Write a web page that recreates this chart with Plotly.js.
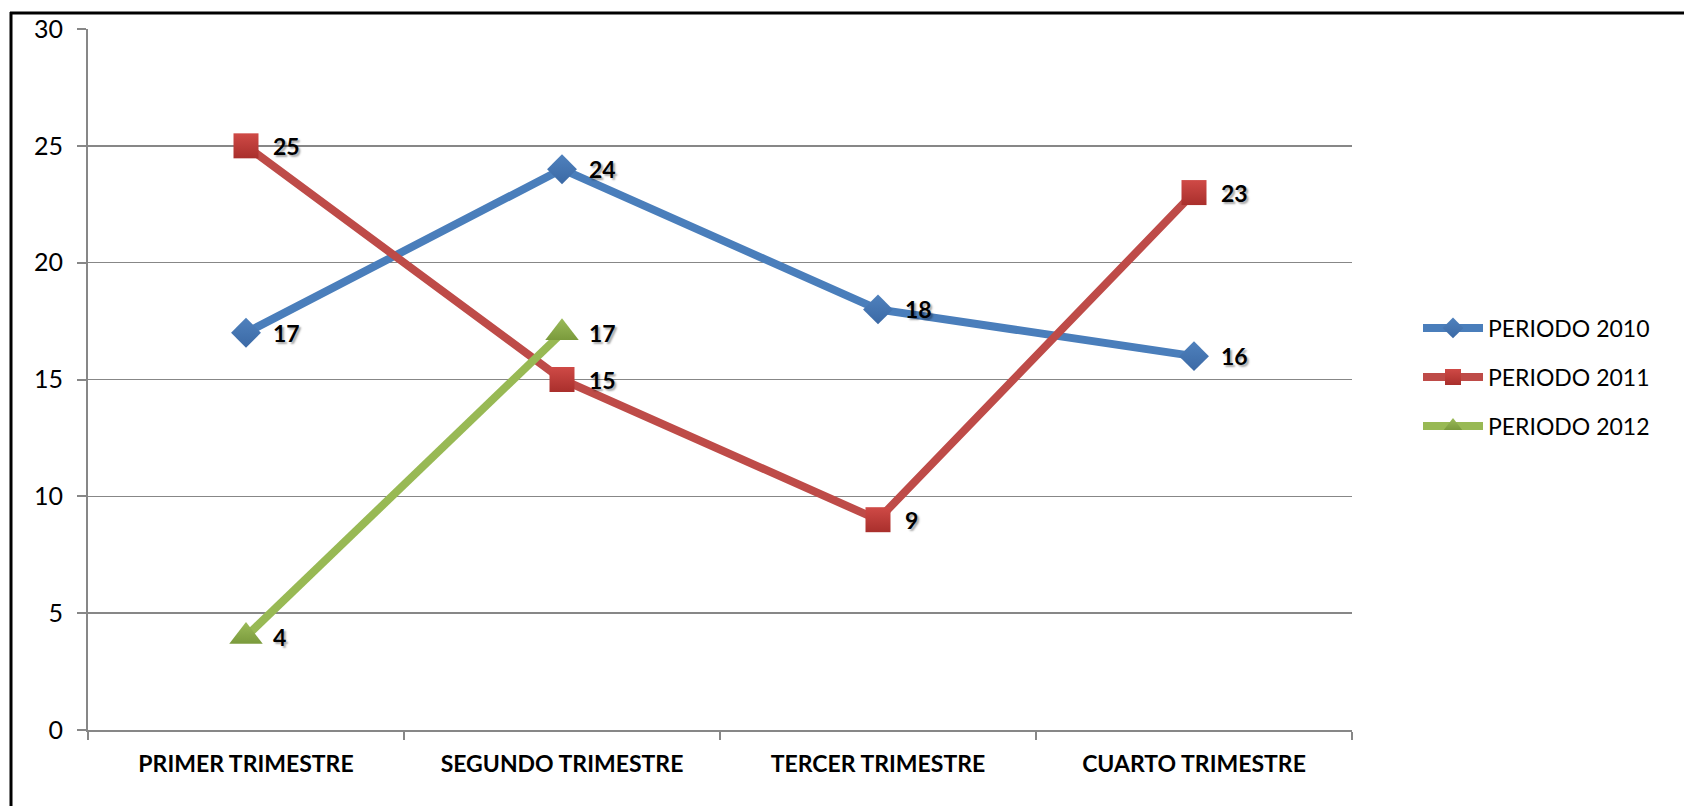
<!DOCTYPE html>
<html>
<head>
<meta charset="utf-8">
<script src="https://cdn.plot.ly/plotly-3.0.1.min.js"></script>
<style>
  html, body { margin: 0; padding: 0; background: #fff; }
  #chart { width: 1684px; height: 806px; }
  .annotation-text { text-shadow: 2px 2px 2px rgba(0,0,0,0.35); }
</style>
</head>
<body>
<div id="chart"></div>
<script>
const categories = ["PRIMER TRIMESTRE", "SEGUNDO TRIMESTRE", "TERCER TRIMESTRE", "CUARTO TRIMESTRE"];
const seriesNames = ["PERIODO 2010", "PERIODO 2011", "PERIODO 2012"];
const values2010 = [17, 24, 18, 16];
const values2011 = [25, 15, 9, 23];
const values2012 = [4, 17, null, null];
const yTicks = [0, 5, 10, 15, 20, 25, 30];

const W = 1684, H = 806;
const M = { l: 88, r: 332, t: 29, b: 76 };
const pw = W - M.l - M.r, ph = H - M.t - M.b;
const px2x = x => (x - M.l) / pw;
const px2y = y => (H - M.b - y) / ph;

const styles = [
  { color: '#4a7ebb', marker: { symbol: 'diamond', size: 23, color: '#4f81bd', gradient: { type: 'vertical', color: '#3b69a5' } }, legend: 'legend' },
  { color: '#be4b48', marker: { symbol: 'square', size: 25, color: '#cf4a46', gradient: { type: 'vertical', color: '#a92f2c' } }, legend: 'legend2' },
  { color: '#98b954', marker: { symbol: 'triangle-up', size: 29, color: '#9bbb59', gradient: { type: 'vertical', color: '#7a9a3c' } }, legend: 'legend3' }
];
const allValues = [values2010, values2011, values2012];

const traces = allValues.map((vals, i) => ({
  type: 'scatter',
  mode: 'lines+markers',
  name: seriesNames[i],
  x: categories,
  y: vals,
  line: { color: styles[i].color, width: 8 },
  marker: Object.assign({}, styles[i].marker, { line: { width: 0 } }),
  legend: styles[i].legend,
  connectgaps: false,
  hoverinfo: 'skip'
}));

const annotations = [];
allValues.forEach(vals => {
  vals.forEach((v, j) => {
    if (v === null) return;
    annotations.push({
      x: categories[j], y: v, xref: 'x', yref: 'y',
      text: String(v), showarrow: false,
      xanchor: 'left', yanchor: 'middle', xshift: 25,
      font: { family: 'Lato, sans-serif', size: 23, color: '#000', weight: 'bold' }
    });
  });
});

const legendBase = (yPx) => ({
  x: px2x(1418), y: px2y(yPx), xanchor: 'left', yanchor: 'middle',
  bgcolor: 'rgba(0,0,0,0)', borderwidth: 0,
  font: { family: 'Lato, sans-serif', size: 23, color: '#000' },
  itemwidth: 60
});

const shapes = [
  { type: 'line', xref: 'paper', yref: 'paper', x0: px2x(10), x1: px2x(1684), y0: px2y(13), y1: px2y(13), line: { color: '#000', width: 3 } },
  { type: 'line', xref: 'paper', yref: 'paper', x0: px2x(11), x1: px2x(11), y0: px2y(12), y1: px2y(806), line: { color: '#000', width: 3 } }
];

const layout = {
  width: W, height: H,
  margin: M,
  paper_bgcolor: '#fff', plot_bgcolor: '#fff',
  font: { family: 'Lato, sans-serif', color: '#000' },
  showlegend: true,
  legend: legendBase(328),
  legend2: legendBase(377),
  legend3: legendBase(426),
  xaxis: {
    type: 'category',
    categoryorder: 'array', categoryarray: categories,
    range: [-0.5, 3.5],
    showline: true, linecolor: '#878787', linewidth: 2,
    ticks: 'outside', tickson: 'boundaries', ticklen: 8, tickcolor: '#878787', tickwidth: 2,
    tickfont: { family: 'Lato, sans-serif', size: 23, color: '#000', weight: 'bold' },
    ticklabelstandoff: 12,
    showgrid: false, zeroline: false, fixedrange: true
  },
  yaxis: {
    range: [0, 30],
    tickvals: yTicks, ticktext: yTicks.map(String),
    showline: true, linecolor: '#878787', linewidth: 2,
    ticks: 'outside', ticklen: 9, tickcolor: '#878787', tickwidth: 2,
    tickfont: { family: 'Lato, sans-serif', size: 25, color: '#000' },
    ticklabelstandoff: 9,
    showgrid: true, gridcolor: '#878787', gridwidth: 1.5,
    zeroline: false, fixedrange: true
  },
  annotations: annotations,
  shapes: shapes
};

Plotly.newPlot('chart', traces, layout, { displayModeBar: false, staticPlot: true });
</script>
</body>
</html>
